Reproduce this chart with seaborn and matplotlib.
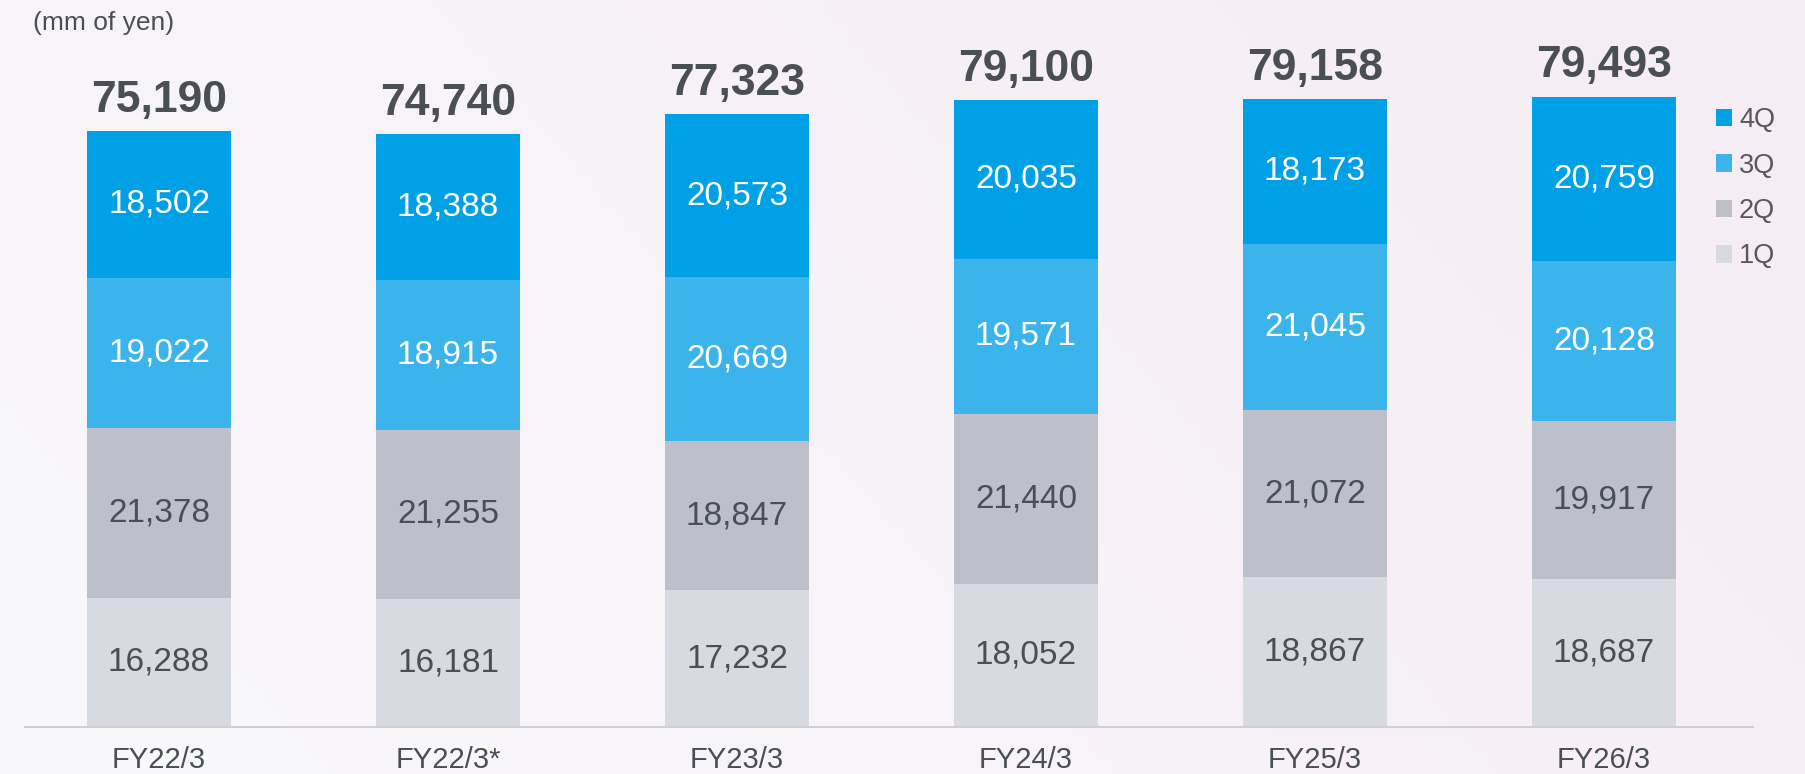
import matplotlib
matplotlib.use('Agg')
import matplotlib.pyplot as plt
import numpy as np
import pandas as pd
import seaborn as sns

# data (mm of yen)
years = ['FY22/3', 'FY22/3*', 'FY23/3', 'FY24/3', 'FY25/3', 'FY26/3']
q1 = [16288, 16181, 17232, 18052, 18867, 18687]
q2 = [21378, 21255, 18847, 21440, 21072, 19917]
q3 = [19022, 18915, 20669, 19571, 21045, 20128]
q4 = [18502, 18388, 20573, 20035, 18173, 20759]
totals = [75190, 74740, 77323, 79100, 79158, 79493]

quarters = ['1Q', '2Q', '3Q', '4Q']
colors = {'1Q': '#D8DAE1', '2Q': '#BDC0C9', '3Q': '#3AB4EB', '4Q': '#00A0E6'}
txt_colors = {'1Q': '#4A4F55', '2Q': '#4A4F55', '3Q': 'white', '4Q': 'white'}
DARK = '#4A4F55'

df = pd.DataFrame({'year': years, '1Q': q1, '2Q': q2, '3Q': q3, '4Q': q4})
cum = df[quarters].cumsum(axis=1)
cum['year'] = years

sns.set_theme(style='white')
plt.rcParams['font.family'] = ['Liberation Sans', 'DejaVu Sans']

fig = plt.figure(figsize=(18.06, 7.74), dpi=100)

# soft background gradient
bg = fig.add_axes([0, 0, 1, 1], zorder=-10)
gx = np.linspace(0, 1, 256)
gy = np.linspace(0, 1, 64)
X, Y = np.meshgrid(gx, gy)
c_left = np.array([0.975, 0.975, 0.985])
c_right = np.array([0.965, 0.930, 0.960])
w = np.clip(X * 0.8 + (1 - Y) * 0.3, 0, 1)[..., None]
img = c_left * (1 - w) + c_right * w
bg.imshow(img, aspect='auto', extent=[0, 1, 0, 1])
bg.axis('off')

ax = fig.add_axes([0.0138, 0.0607, 0.9569, 0.9393])
ax.patch.set_alpha(0)

# stacked bars: draw cumulative layers from the top down
for q in reversed(quarters):
    sns.barplot(data=cum, x='year', y=q, color=colors[q], width=0.5,
                saturation=1, label=q, ax=ax, linewidth=0)

ax.set_xlim(-0.464, 5.516)
ax.set_ylim(0, 91700)

# segment labels
for i in range(len(years)):
    base = 0
    for q in quarters:
        v = df.loc[i, q]
        ax.text(i, base + v / 2, f'{v:,}', ha='center', va='center',
                fontsize=24, color=txt_colors[q])
        base += v
    ax.text(i, totals[i] + 1300, f'{totals[i]:,}', ha='center', va='bottom',
            fontsize=32, fontweight='bold', color=DARK)

ax.set_xlabel('')
ax.set_ylabel('')
ax.set_yticks([])
ax.tick_params(axis='x', length=0, labelsize=21, labelcolor=DARK, pad=14)
for s in ['top', 'right', 'left']:
    ax.spines[s].set_visible(False)
ax.spines['bottom'].set_color('#D0D0D4')
ax.spines['bottom'].set_linewidth(1.5)

leg = ax.legend(loc='upper left', bbox_to_anchor=(1716 / 1806, 1 - 107 / 774),
                bbox_transform=fig.transFigure, frameon=False, fontsize=19.5,
                handlelength=0.6, handleheight=0.6, handletextpad=0.25,
                labelspacing=0.72, borderaxespad=0, borderpad=0)
for t in leg.get_texts():
    t.set_color('#595959')

fig.text(33 / 1806, 1 - 23 / 774, '(mm of yen)', ha='left', va='center',
         fontsize=19, color=DARK)

fig.savefig('out.png', dpi=100)
